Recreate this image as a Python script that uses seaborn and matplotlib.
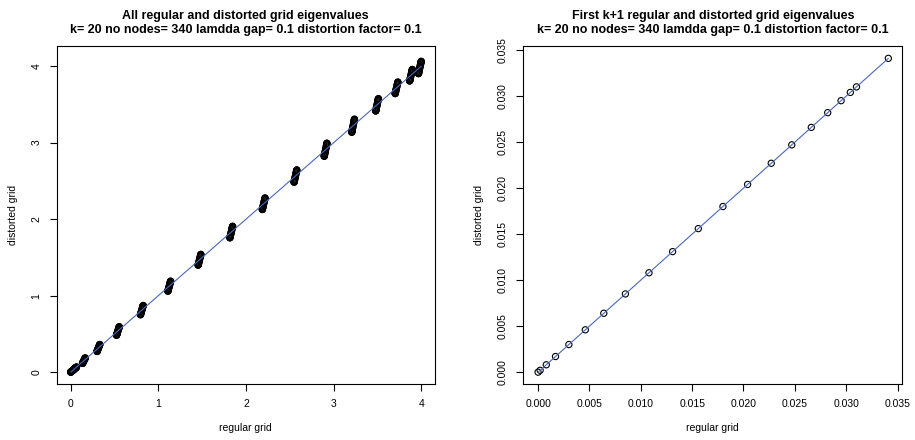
import numpy as np
import pandas as pd
import matplotlib.pyplot as plt
import seaborn as sns

# eigenvalue clusters (start of each cluster)
cluster_starts = [0.0, 0.0341, 0.134, 0.300, 0.522, 0.795, 1.108, 1.453, 1.815,
                  2.185, 2.547, 2.891, 3.205, 3.478, 3.700, 3.865, 3.966]
# spacing inside one cluster
within_offsets = [0.0, 0.0002, 0.0008, 0.0017, 0.0030, 0.0046, 0.0064, 0.0085,
                  0.0108, 0.0131, 0.0156, 0.0180, 0.0204, 0.0227, 0.0247, 0.0266,
                  0.0282, 0.0295, 0.0304, 0.0310]
# vertical half-spread of each cluster in the distorted grid
cluster_spread = [0.0, 0.0, 0.02, 0.03, 0.04, 0.045, 0.05, 0.055, 0.06,
                  0.06, 0.065, 0.07, 0.07, 0.065, 0.06, 0.06, 0.065]

k = 20
n_nodes = 340
lam_gap = 0.1
dist_factor = 0.1

reg, dist = [], []
offs = np.array(within_offsets)
for c, s in zip(cluster_starts, cluster_spread):
    r = c + offs
    reg.extend(r)
    dist.extend(r + s * (2 * offs / offs.max() - 1))
df = pd.DataFrame({'regular': reg, 'distorted': dist}).sort_values('regular')
first = df.iloc[:k + 1]

sns.set_style('ticks')
plt.rcParams['font.family'] = ['Liberation Sans', 'DejaVu Sans']
for key in ['text.color', 'axes.labelcolor', 'xtick.color', 'ytick.color']:
    plt.rcParams[key] = 'black'

fig = plt.figure(figsize=(9.15, 4.4), dpi=100)
ax1 = fig.add_axes([0.062, 0.127, 0.413, 0.769])
ax2 = fig.add_axes([0.572, 0.127, 0.414, 0.769])

sub = f'k= {k} no nodes= {n_nodes} lamdda gap= {lam_gap} distortion factor= {dist_factor}'
titles = ['All regular and distorted grid eigenvalues\n' + sub,
          'First k+1 regular and distorted grid eigenvalues\n' + sub]
line_col = '#4a68b8'

for ax, d, t in [(ax1, df, titles[0]), (ax2, first, titles[1])]:
    sns.scatterplot(data=d, x='regular', y='distorted', ax=ax, marker='o', s=20,
                    facecolor='none', edgecolor='black', linewidth=0.8, zorder=2)
    sns.lineplot(x=d['regular'].values, y=d['regular'].values, ax=ax,
                 color=line_col, lw=0.8, estimator=None, zorder=3)
    ax.set_title(t, fontsize=9, fontweight='bold', pad=9, linespacing=1.3)
    ax.set_xlabel('regular grid', fontsize=7.5, labelpad=10)
    ax.set_ylabel('distorted grid', fontsize=7.5, labelpad=10)
    ax.tick_params(labelsize=7.5, length=5, width=0.8, pad=6)
    for sp in ax.spines.values():
        sp.set_linewidth(0.8)
        sp.set_color('black')
    ax.grid(False)

ax1.set_xlim(-0.16, 4.15)
ax1.set_ylim(-0.157, 4.265)
ax1.set_xticks([0, 1, 2, 3, 4])
ax1.set_yticks([0, 1, 2, 3, 4])

ax2.set_xlim(-0.00143, 0.03545)
ax2.set_ylim(-0.0013, 0.03547)
t2 = np.arange(0, 0.0351, 0.005)
ax2.set_xticks(t2)
ax2.set_xticklabels([f'{v:.3f}' for v in t2])
ax2.set_yticks(t2)
ax2.set_yticklabels([f'{v:.3f}' for v in t2])

for ax in (ax1, ax2):
    plt.setp(ax.get_yticklabels(), rotation=90, va='center')

fig.savefig('out.png', dpi=100)
